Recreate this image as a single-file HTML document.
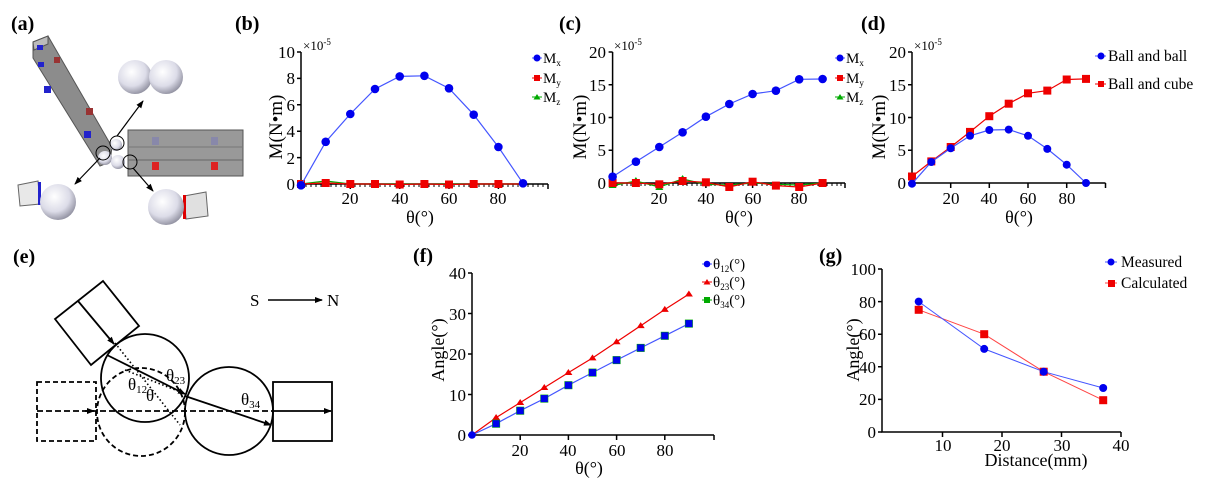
<!DOCTYPE html>
<html><head><style>
body{margin:0;background:#fff}
svg{display:block;font-family:"Liberation Serif",serif}
</style></head><body>
<svg width="1212" height="481" viewBox="0 0 1212 481" xmlns="http://www.w3.org/2000/svg">
<defs>
<marker id="ah" markerWidth="8" markerHeight="8" refX="7" refY="4" orient="auto" markerUnits="userSpaceOnUse"><path d="M0,1 L8,4 L0,7z" fill="#000"/></marker>
<radialGradient id="sph" cx="0.4" cy="0.35" r="0.7"><stop offset="0" stop-color="#fff"/><stop offset="0.6" stop-color="#dcdce8"/><stop offset="1" stop-color="#8a8a9a"/></radialGradient>
</defs>
<g font-weight="bold" font-size="20">
<text x="11" y="30">(a)</text><text x="235" y="30">(b)</text><text x="559" y="30">(c)</text><text x="861" y="30">(d)</text>
<text x="13" y="263">(e)</text><text x="413" y="262">(f)</text><text x="819" y="262">(g)</text>
</g>

<!-- (a) -->
<g stroke="#555" stroke-width="1">
<polygon points="33,42 48,36 112,147 110,162 100,166 33,58" fill="#8c8c8c"/>
<polygon points="33,42 48,36 48,44 34,50" fill="#bbb"/>
<rect x="128" y="130" width="115" height="46" fill="#999"/>
<line x1="128" y1="147" x2="243" y2="147" stroke="#777"/>
<line x1="128" y1="160" x2="243" y2="160" stroke="#666"/>
</g>
<rect x="37" y="45" width="6" height="5" fill="#22c"/><rect x="38" y="62" width="6" height="5" fill="#22c"/>
<rect x="54" y="57" width="6" height="6" fill="#933"/><rect x="44" y="86" width="7" height="7" fill="#22c"/>
<rect x="86" y="108" width="7" height="7" fill="#933"/><rect x="84" y="131" width="7" height="7" fill="#22c"/>
<rect x="152" y="137" width="7" height="8" fill="#88a"/><rect x="211" y="137" width="7" height="8" fill="#88a"/>
<rect x="152" y="162" width="7" height="8" fill="#d22"/><rect x="211" y="162" width="7" height="8" fill="#d22"/>
<circle cx="105" cy="158" r="7" fill="url(#sph)"/><circle cx="118" cy="162" r="7" fill="url(#sph)"/><circle cx="116" cy="145" r="6" fill="url(#sph)"/>
<g fill="none" stroke="#000" stroke-width="1"><circle cx="117" cy="143" r="7"/><circle cx="103" cy="153" r="7"/><circle cx="130" cy="162" r="7"/></g>
<circle cx="135" cy="77" r="17" fill="url(#sph)"/><circle cx="166" cy="77" r="17" fill="url(#sph)"/>
<g stroke="#000" stroke-width="1.2">
<line x1="117" y1="136" x2="143" y2="101" marker-end="url(#ah)"/>
<line x1="100" y1="158" x2="75" y2="184" marker-end="url(#ah)"/>
<line x1="133" y1="168" x2="153" y2="191" marker-end="url(#ah)"/>
</g>
<polygon points="18,185 38,181 40,204 20,206" fill="#e8e8e8" stroke="#666"/><rect x="38" y="182" width="3" height="23" fill="#22c"/>
<circle cx="58" cy="202" r="18" fill="url(#sph)"/>
<polygon points="184,196 206,192 208,216 186,219" fill="#e0e0e0" stroke="#666"/><rect x="183" y="195" width="3" height="24" fill="#d00"/>
<circle cx="166" cy="207" r="18" fill="url(#sph)"/>

<g font-size="17" fill="#000">
<!-- (b) -->
<g stroke="#000" stroke-width="1.5" fill="none">
<path d="M301,52 V184 H548"/>
<path d="M297,52h4M297,78.4h4M297,104.8h4M297,131.2h4M297,157.6h4"/>
<path d="M350.3,184v5M399.7,184v5M449,184v5M498.4,184v5M548,184v5"/>
</g>
<path stroke="#000" stroke-width="1" d="M306,184v3M311,184v3M316,184v3M321,184v3M326,184v3M331,184v3M336,184v3M341,184v3M345,184v3M355,184v3M360,184v3M365,184v3M370,184v3M375,184v3M380,184v3M385,184v3M390,184v3M395,184v3M404,184v3M409,184v3M414,184v3M419,184v3M424,184v3M429,184v3M434,184v3M439,184v3M444,184v3M454,184v3M459,184v3M464,184v3M469,184v3M474,184v3M479,184v3M484,184v3M489,184v3M493,184v3M503,184v3M508,184v3M513,184v3M518,184v3M523,184v3M528,184v3M533,184v3M538,184v3M543,184v3"/>
<g text-anchor="end"><text x="295" y="58">10</text><text x="295" y="84">8</text><text x="295" y="111">6</text><text x="295" y="137">4</text><text x="295" y="164">2</text><text x="295" y="190">0</text></g>
<g text-anchor="middle"><text x="350" y="204">20</text><text x="400" y="204">40</text><text x="449" y="204">60</text><text x="498" y="204">80</text><text x="420" y="223" font-size="18">θ(°)</text></g>
<text x="303" y="50" font-size="13">×10<tspan font-size="9" dy="-5">-5</tspan></text>
<text transform="translate(282,127) rotate(-90)" text-anchor="middle" font-size="19">M(N•m)</text>
<polyline fill="none" stroke="#0a0" stroke-width="1.2" points="301,184 325.7,181 350.3,184 375,184 399.7,184 424.4,184 449,184 473.7,184 498.4,184 523,184"/>
<polyline fill="none" stroke="#e00" stroke-width="1.2" points="301,184 325.7,183 350.3,184 375,184 399.7,184.5 424.4,184 449,184.5 473.7,184 498.4,184 523,184"/>
<g fill="#e00"><rect x="297" y="180" width="8" height="8"/><rect x="321.7" y="179" width="8" height="8"/><rect x="346.3" y="180" width="8" height="8"/><rect x="371" y="180" width="8" height="8"/><rect x="395.7" y="180.5" width="8" height="8"/><rect x="420.4" y="180" width="8" height="8"/><rect x="445" y="180.5" width="8" height="8"/><rect x="469.7" y="180" width="8" height="8"/><rect x="494.4" y="180" width="8" height="8"/></g>
<polyline fill="none" stroke="#45f" stroke-width="1.2" points="301,185.3 325.7,141.8 350.3,114 375,89 399.7,76.4 424.4,75.8 449,88.3 473.7,114.7 498.4,147 523,183.3"/>
<g fill="#00e"><circle cx="301" cy="185.3" r="4.3"/><circle cx="325.7" cy="141.8" r="4.3"/><circle cx="350.3" cy="114" r="4.3"/><circle cx="375" cy="89" r="4.3"/><circle cx="399.7" cy="76.4" r="4.3"/><circle cx="424.4" cy="75.8" r="4.3"/><circle cx="449" cy="88.3" r="4.3"/><circle cx="473.7" cy="114.7" r="4.3"/><circle cx="498.4" cy="147" r="4.3"/><circle cx="523" cy="183.3" r="4.3"/></g>
<g font-size="15">
<line x1="532" y1="58" x2="542" y2="58" stroke="#45f"/><circle cx="537" cy="58" r="3.5" fill="#00e"/><text x="543" y="63">M<tspan font-size="9" dy="3">x</tspan></text>
<line x1="532" y1="78" x2="542" y2="78" stroke="#e00"/><rect x="534" y="75" width="6" height="6" fill="#e00"/><text x="543" y="83">M<tspan font-size="9" dy="3">y</tspan></text>
<line x1="532" y1="97" x2="542" y2="97" stroke="#0a0"/><path d="M537,94 l3.5,5.5h-7z" fill="#0a0"/><text x="543" y="102">M<tspan font-size="9" dy="3">z</tspan></text>
</g>

<!-- (c) -->
<g stroke="#000" stroke-width="1.5" fill="none">
<path d="M612.6,52 V183 H845"/>
<path d="M608.6,52h4M608.6,84.75h4M608.6,117.5h4M608.6,150.25h4"/>
<path d="M659.3,183v5M705.9,183v5M752.6,183v5M799.2,183v5M845,183v5"/>
</g>
<path stroke="#000" stroke-width="1" d="M617,183v3M622,183v3M627,183v3M631,183v3M636,183v3M641,183v3M645,183v3M650,183v3M655,183v3M664,183v3M669,183v3M673,183v3M678,183v3M683,183v3M687,183v3M692,183v3M697,183v3M701,183v3M711,183v3M715,183v3M720,183v3M725,183v3M729,183v3M734,183v3M739,183v3M743,183v3M748,183v3M757,183v3M762,183v3M767,183v3M771,183v3M776,183v3M781,183v3M785,183v3M790,183v3M795,183v3M804,183v3M809,183v3M813,183v3M818,183v3M823,183v3M827,183v3M832,183v3M837,183v3M841,183v3"/>
<g text-anchor="end"><text x="606" y="58">20</text><text x="606" y="91">15</text><text x="606" y="124">10</text><text x="606" y="156">5</text><text x="606" y="189">0</text></g>
<g text-anchor="middle"><text x="659" y="204">20</text><text x="706" y="204">40</text><text x="753" y="204">60</text><text x="799" y="204">80</text><text x="739" y="223" font-size="18">θ(°)</text></g>
<text x="614" y="50" font-size="13">×10<tspan font-size="9" dy="-5">-5</tspan></text>
<text transform="translate(586,127) rotate(-90)" text-anchor="middle" font-size="19">M(N•m)</text>
<polyline fill="none" stroke="#0a0" stroke-width="1.2" points="612.6,185.6 635.9,181 659.3,187 682.6,179 705.9,184.3 729.3,185 752.6,183 775.9,184.3 799.2,185 822.6,183"/>
<g fill="#0a0"><path d="M612.6,182l4,6h-8z"/><path d="M635.9,177l4,6h-8z"/><path d="M659.3,184l4,6h-8z"/><path d="M682.6,175l4,6h-8z"/></g>
<polyline fill="none" stroke="#e00" stroke-width="1.2" points="612.6,183 635.9,183 659.3,184.3 682.6,181 705.9,182.3 729.3,187 752.6,181.7 775.9,185.6 799.2,187 822.6,183"/>
<g fill="#e00"><rect x="608.6" y="179" width="8" height="8"/><rect x="631.9" y="179" width="8" height="8"/><rect x="655.3" y="180.3" width="8" height="8"/><rect x="678.6" y="177" width="8" height="8"/><rect x="701.9" y="178.3" width="8" height="8"/><rect x="725.3" y="183" width="8" height="8"/><rect x="748.6" y="177.7" width="8" height="8"/><rect x="771.9" y="181.6" width="8" height="8"/><rect x="795.2" y="183" width="8" height="8"/><rect x="818.6" y="179" width="8" height="8"/></g>
<polyline fill="none" stroke="#45f" stroke-width="1.2" points="612.6,176.7 635.9,161.7 659.3,147 682.6,132.3 705.9,116.7 729.3,104 752.6,94 775.9,90.7 799.2,79.3 822.6,79"/>
<g fill="#00e"><circle cx="612.6" cy="176.7" r="4.3"/><circle cx="635.9" cy="161.7" r="4.3"/><circle cx="659.3" cy="147" r="4.3"/><circle cx="682.6" cy="132.3" r="4.3"/><circle cx="705.9" cy="116.7" r="4.3"/><circle cx="729.3" cy="104" r="4.3"/><circle cx="752.6" cy="94" r="4.3"/><circle cx="775.9" cy="90.7" r="4.3"/><circle cx="799.2" cy="79.3" r="4.3"/><circle cx="822.6" cy="79" r="4.3"/></g>
<g font-size="15">
<line x1="835" y1="58" x2="845" y2="58" stroke="#45f"/><circle cx="840" cy="58" r="3.5" fill="#00e"/><text x="846" y="63">M<tspan font-size="9" dy="3">x</tspan></text>
<line x1="835" y1="78" x2="845" y2="78" stroke="#e00"/><rect x="837" y="75" width="6" height="6" fill="#e00"/><text x="846" y="83">M<tspan font-size="9" dy="3">y</tspan></text>
<line x1="835" y1="97" x2="845" y2="97" stroke="#0a0"/><path d="M840,94 l3.5,5.5h-7z" fill="#0a0"/><text x="846" y="102">M<tspan font-size="9" dy="3">z</tspan></text>
</g>

<!-- (d) -->
<g stroke="#000" stroke-width="1.5" fill="none">
<path d="M912,52 V183 H1105.5"/>
<path d="M908,52h4M908,84.75h4M908,117.5h4M908,150.25h4M908,183h4"/>
<path d="M950.7,183v5M989.3,183v5M1028,183v5M1066.7,183v5M1105.5,183v5"/>
</g>
<g text-anchor="end"><text x="906" y="58">20</text><text x="906" y="91">15</text><text x="906" y="124">10</text><text x="906" y="156">5</text><text x="906" y="189">0</text></g>
<g text-anchor="middle"><text x="951" y="204">20</text><text x="989" y="204">40</text><text x="1028" y="204">60</text><text x="1067" y="204">80</text><text x="1019" y="223" font-size="18">θ(°)</text></g>
<text x="914" y="50" font-size="13">×10<tspan font-size="9" dy="-5">-5</tspan></text>
<text transform="translate(885,127) rotate(-90)" text-anchor="middle" font-size="19">M(N•m)</text>
<polyline fill="none" stroke="#e00" stroke-width="1.2" points="912,176.5 931.3,161.4 950.7,147 970,131.9 989.3,116.2 1008.7,103.7 1028,93.3 1047.3,90.6 1066.7,79.5 1086,78.9"/>
<g fill="#e00"><rect x="908" y="172.5" width="8" height="8"/><rect x="927.3" y="157.4" width="8" height="8"/><rect x="946.7" y="143" width="8" height="8"/><rect x="966" y="127.9" width="8" height="8"/><rect x="985.3" y="112.2" width="8" height="8"/><rect x="1004.7" y="99.7" width="8" height="8"/><rect x="1024" y="89.3" width="8" height="8"/><rect x="1043.3" y="86.6" width="8" height="8"/><rect x="1062.7" y="75.5" width="8" height="8"/><rect x="1082" y="74.9" width="8" height="8"/></g>
<polyline fill="none" stroke="#45f" stroke-width="1.2" points="912,183.7 931.3,162 950.7,148.3 970,135.8 989.3,130 1008.7,129.6 1028,135.8 1047.3,148.9 1066.7,164.7 1086,183"/>
<g fill="#00e"><circle cx="912" cy="183.7" r="4"/><circle cx="931.3" cy="162" r="4"/><circle cx="950.7" cy="148.3" r="4"/><circle cx="970" cy="135.8" r="4"/><circle cx="989.3" cy="130" r="4"/><circle cx="1008.7" cy="129.6" r="4"/><circle cx="1028" cy="135.8" r="4"/><circle cx="1047.3" cy="148.9" r="4"/><circle cx="1066.7" cy="164.7" r="4"/><circle cx="1086" cy="183" r="4"/></g>
<g font-size="15.5">
<line x1="1095" y1="56" x2="1106" y2="56" stroke="#45f"/><circle cx="1101" cy="56" r="3.5" fill="#00e"/><text x="1108" y="61">Ball and ball</text>
<line x1="1095" y1="84" x2="1106" y2="84" stroke="#e00"/><rect x="1098" y="81" width="6" height="6" fill="#e00"/><text x="1108" y="89">Ball and cube</text>
</g>

<!-- (e) diagram -->
<g fill="none" stroke="#000" stroke-width="1.8">
<polygon points="55,319 91,365 139,326 103,281"/>
<circle cx="145" cy="378" r="44"/>
<circle cx="229" cy="411" r="44"/>
<rect x="273" y="382" width="59" height="59"/>
<g stroke-dasharray="5,3"><circle cx="141" cy="412" r="44"/><rect x="37" y="382" width="59" height="59"/></g>
<line x1="37" y1="411" x2="273" y2="411" stroke-dasharray="6,3"/>
<line x1="273" y1="411" x2="331" y2="411" marker-end="url(#ah)"/>
<line x1="78" y1="301" x2="114" y2="344" marker-end="url(#ah)"/>
<line x1="107" y1="355" x2="185" y2="394" marker-end="url(#ah)"/>
<line x1="185" y1="396" x2="271" y2="425" marker-end="url(#ah)"/>
<line x1="85" y1="411" x2="94" y2="411" marker-end="url(#ah)"/>
<g stroke-dasharray="1.5,2.5" stroke-width="1.6"><line x1="115" y1="343" x2="180" y2="425"/><line x1="125" y1="370" x2="183" y2="393"/></g>
<line x1="268" y1="300" x2="322" y2="300" stroke-width="1.4" marker-end="url(#ah)"/>
</g>
<text x="128" y="390">θ<tspan font-size="11" dy="3">12</tspan></text>
<text x="166" y="381">θ<tspan font-size="11" dy="3">23</tspan></text>
<text x="146" y="401">θ</text>
<text x="241" y="405">θ<tspan font-size="11" dy="3">34</tspan></text>
<text x="250" y="306">S</text><text x="327" y="306">N</text>

<!-- (f) -->
<g stroke="#000" stroke-width="1.5" fill="none">
<path d="M472,273 V435 H714"/>
<path d="M468,273h4M468,313.5h4M468,354h4M468,394.5h4M468,435h4"/>
<path d="M520.2,435v5M568.4,435v5M616.6,435v5M664.8,435v5M714,435v5"/>
</g>
<g text-anchor="end"><text x="466" y="279">40</text><text x="466" y="320">30</text><text x="466" y="360">20</text><text x="466" y="401">10</text><text x="466" y="441">0</text></g>
<g text-anchor="middle"><text x="520" y="456">20</text><text x="568" y="456">40</text><text x="617" y="456">60</text><text x="665" y="456">80</text><text x="589" y="474" font-size="18">θ(°)</text></g>
<text transform="translate(444,350) rotate(-90)" text-anchor="middle" font-size="18">Angle(°)</text>
<polyline fill="none" stroke="#e00" stroke-width="1.2" points="472,435 496.1,417.6 520.2,402.6 544.3,387.6 568.4,372.6 592.5,358 616.6,341.9 640.7,325.7 664.8,309.5 688.9,294.1"/>
<g fill="#e00"><path d="M496.1,414l4,6h-8zM520.2,399l4,6h-8zM544.3,384l4,6h-8zM568.4,369l4,6h-8zM592.5,354.4l4,6h-8zM616.6,338.3l4,6h-8zM640.7,322.1l4,6h-8zM664.8,305.9l4,6h-8zM688.9,290.5l4,6h-8z"/></g>
<polyline fill="none" stroke="#45f" stroke-width="1.2" points="472,435 496.1,423.7 520.2,410.7 544.3,398.6 568.4,385.2 592.5,372.6 616.6,360.1 640.7,347.9 664.8,335.8 688.9,323.6"/>
<g fill="#0a0"><rect x="492.1" y="419.7" width="8" height="8"/><rect x="516.2" y="406.7" width="8" height="8"/><rect x="540.3" y="394.6" width="8" height="8"/><rect x="564.4" y="381.2" width="8" height="8"/><rect x="588.5" y="368.6" width="8" height="8"/><rect x="612.6" y="356.1" width="8" height="8"/><rect x="636.7" y="343.9" width="8" height="8"/><rect x="660.8" y="331.8" width="8" height="8"/><rect x="684.9" y="319.6" width="8" height="8"/></g>
<g fill="#00e"><circle cx="472" cy="435" r="3.8"/><rect x="492.6" y="420.2" width="7" height="7"/><rect x="516.7" y="407.2" width="7" height="7"/><rect x="540.8" y="395.1" width="7" height="7"/><rect x="564.9" y="381.7" width="7" height="7"/><rect x="589" y="369.1" width="7" height="7"/><rect x="613.1" y="356.6" width="7" height="7"/><rect x="637.2" y="344.4" width="7" height="7"/><rect x="661.3" y="332.3" width="7" height="7"/><rect x="685.4" y="320.1" width="7" height="7"/></g>
<g font-size="15">
<line x1="702" y1="264" x2="712" y2="264" stroke="#45f"/><circle cx="707" cy="264" r="3.3" fill="#00e"/><text x="713" y="269">θ<tspan font-size="9" dy="3">12</tspan><tspan dy="-3">(°)</tspan></text>
<line x1="702" y1="282" x2="712" y2="282" stroke="#e00"/><path d="M707,279l3.5,5.5h-7z" fill="#e00"/><text x="713" y="287">θ<tspan font-size="9" dy="3">23</tspan><tspan dy="-3">(°)</tspan></text>
<line x1="702" y1="300" x2="712" y2="300" stroke="#0a0"/><rect x="704" y="297" width="6" height="6" fill="#0a0"/><text x="713" y="305">θ<tspan font-size="9" dy="3">34</tspan><tspan dy="-3">(°)</tspan></text>
</g>

<!-- (g) -->
<g stroke="#000" stroke-width="1.5" fill="none">
<path d="M882,269 V432 H1121"/>
<path d="M878,269h4M878,301.6h4M878,334.2h4M878,366.8h4M878,399.4h4M878,432h4"/>
<path d="M942.5,432v5M1002,432v5M1061.5,432v5M1121,432v5"/>
</g>
<g text-anchor="end"><text x="876" y="275">100</text><text x="876" y="308">80</text><text x="876" y="340">60</text><text x="876" y="373">40</text><text x="876" y="405">20</text><text x="876" y="438">0</text></g>
<g text-anchor="middle"><text x="943" y="451">10</text><text x="1002" y="451">20</text><text x="1062" y="451">30</text><text x="1121" y="451">40</text><text x="1036" y="466" font-size="18">Distance(mm)</text></g>
<text transform="translate(859,350) rotate(-90)" text-anchor="middle" font-size="18">Angle(°)</text>
<polyline fill="none" stroke="#f44" stroke-width="1" points="918.7,309.8 984.2,334.2 1043.7,371.7 1103.2,400.2"/>
<polyline fill="none" stroke="#45f" stroke-width="1" points="918.7,301.6 984.2,348.9 1043.7,371.7 1103.2,388"/>
<g fill="#e00"><rect x="914.7" y="305.8" width="8" height="8"/><rect x="980.2" y="330.2" width="8" height="8"/><rect x="1039.7" y="367.7" width="8" height="8"/><rect x="1099.2" y="396.2" width="8" height="8"/></g>
<g fill="#00e"><circle cx="918.7" cy="301.6" r="4"/><circle cx="984.2" cy="348.9" r="4"/><circle cx="1043.7" cy="371.7" r="4"/><circle cx="1103.2" cy="388" r="4"/></g>
<g font-size="15.5">
<line x1="1105" y1="262" x2="1117" y2="262" stroke="#45f"/><circle cx="1111" cy="262" r="3.5" fill="#00e"/><text x="1121" y="267">Measured</text>
<line x1="1105" y1="283" x2="1117" y2="283" stroke="#f44"/><rect x="1108" y="280" width="7" height="7" fill="#e00"/><text x="1121" y="288">Calculated</text>
</g>
</g>
</svg>
</body></html>
